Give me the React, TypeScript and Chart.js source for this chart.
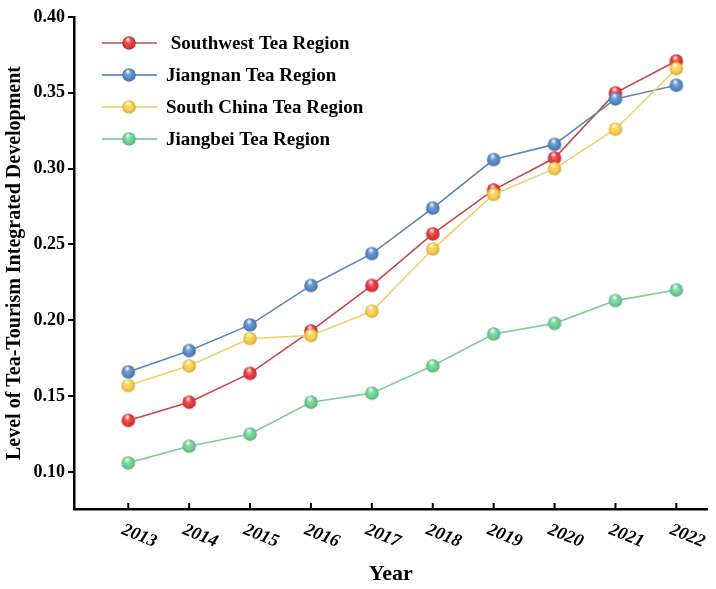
import React, { useEffect, useRef } from "react";
import { Chart, registerables } from "chart.js";

Chart.register(...registerables);

const years = [2013, 2014, 2015, 2016, 2017, 2018, 2019, 2020, 2021, 2022];
const southwest = [0.134, 0.146, 0.165, 0.193, 0.223, 0.257, 0.286, 0.307, 0.350, 0.371];
const jiangnan = [0.166, 0.180, 0.197, 0.223, 0.244, 0.274, 0.306, 0.316, 0.346, 0.355];
const southChina = [0.157, 0.170, 0.188, 0.190, 0.206, 0.247, 0.283, 0.300, 0.326, 0.366];
const jiangbei = [0.106, 0.117, 0.125, 0.146, 0.152, 0.170, 0.191, 0.198, 0.213, 0.220];
const yTicks = [0.1, 0.15, 0.2, 0.25, 0.3, 0.35, 0.4];
const seriesNames = [" Southwest Tea Region", "Jiangnan Tea Region", "South China Tea Region", "Jiangbei Tea Region"];
const seriesData = [southwest, jiangnan, southChina, jiangbei];
const markerColors = ["#ea3a3c", "#5b8cc9", "#fdd04c", "#70d598"];
const lineColors = ["#c9474b", "#5d88ba", "#f1d06c", "#7ccf9c"];
const legendLineColors = ["#c07f7d", "#6e97c6", "#f2d77e", "#86d3a6"];
const xTitle = "Year";
const yTitle = "Level of Tea-Tourism Integrated Development";

const FONT = '"Liberation Serif", "Times New Roman", serif';

function shade(hex: string, amt: number): string {
  const n = parseInt(hex.slice(1), 16);
  let r = (n >> 16) & 255, g = (n >> 8) & 255, b = n & 255;
  if (amt >= 0) {
    r = Math.round(r + (255 - r) * amt); g = Math.round(g + (255 - g) * amt); b = Math.round(b + (255 - b) * amt);
  } else {
    r = Math.round(r * (1 + amt)); g = Math.round(g * (1 + amt)); b = Math.round(b * (1 + amt));
  }
  return `rgb(${r},${g},${b})`;
}

function makeSphere(color: string, r: number): HTMLCanvasElement {
  const size = Math.ceil(r * 2 + 2);
  const c = document.createElement("canvas");
  c.width = size; c.height = size;
  const ctx = c.getContext("2d")!;
  const cx = size / 2, cy = size / 2;
  const g = ctx.createRadialGradient(cx - r * 0.2, cy - r * 0.35, 0, cx, cy, r * 1.05);
  g.addColorStop(0, shade(color, 0.35));
  g.addColorStop(0.55, color);
  g.addColorStop(1, shade(color, -0.18));
  ctx.beginPath();
  ctx.arc(cx, cy, r, 0, Math.PI * 2);
  ctx.fillStyle = g;
  ctx.fill();
  const h = ctx.createRadialGradient(cx - r * 0.15, cy - r * 0.5, 0, cx - r * 0.15, cy - r * 0.5, r * 0.45);
  h.addColorStop(0, "rgba(255,255,255,0.95)");
  h.addColorStop(1, "rgba(255,255,255,0)");
  ctx.beginPath();
  ctx.arc(cx - r * 0.15, cy - r * 0.5, r * 0.45, 0, Math.PI * 2);
  ctx.fillStyle = h;
  ctx.fill();
  return c;
}

export default function App() {
  const ref = useRef<HTMLCanvasElement>(null);
  useEffect(() => {
    if (!ref.current) return;
    const spheres = markerColors.map((c) => makeSphere(c, 6.8));

    const overlay = {
      id: "overlay",
      afterDraw(chart: any) {
        const ctx = chart.ctx;
        const xs = chart.scales.x;
        const area = chart.chartArea;
        ctx.save();
        ctx.strokeStyle = "#000";
        ctx.lineWidth = 2;
        years.forEach((yr) => {
          const x = xs.getPixelForValue(yr);
          ctx.beginPath();
          ctx.moveTo(x, area.bottom);
          ctx.lineTo(x, area.bottom - 6);
          ctx.stroke();
        });
        ctx.fillStyle = "#000";
        ctx.font = `italic bold 18px ${FONT}`;
        ctx.textAlign = "center";
        ctx.textBaseline = "middle";
        years.forEach((yr) => {
          const x = xs.getPixelForValue(yr);
          ctx.save();
          ctx.translate(x + 11, area.bottom + 27);
          ctx.rotate((22 * Math.PI) / 180);
          ctx.fillText(String(yr), 0, 0);
          ctx.restore();
        });
        ctx.font = `bold 22px ${FONT}`;
        ctx.fillText(xTitle, (area.left + area.right) / 2, area.bottom + 65);
        seriesNames.forEach((name, i) => {
          const y = 43 + 32 * i;
          ctx.strokeStyle = legendLineColors[i];
          ctx.lineWidth = 2;
          ctx.beginPath();
          ctx.moveTo(102, y);
          ctx.lineTo(157, y);
          ctx.stroke();
          const s = spheres[i];
          ctx.drawImage(s, 129 - s.width / 2, y - s.height / 2);
          ctx.fillStyle = "#000";
          ctx.font = `bold 19px ${FONT}`;
          ctx.textAlign = "left";
          ctx.textBaseline = "middle";
          ctx.fillText(name, 166, y + 1);
        });
        ctx.restore();
      },
    };

    const chart = new Chart(ref.current, {
      type: "line",
      data: {
        datasets: seriesData.map((d, i) => ({
          label: seriesNames[i],
          data: d.map((v, j) => ({ x: years[j], y: v })),
          borderColor: lineColors[i],
          borderWidth: 1.6,
          pointStyle: spheres[i] as any,
          pointRadius: 7,
          pointHoverRadius: 7,
          tension: 0,
          fill: false,
          order: 4 - i,
        })),
      },
      options: {
        animation: false,
        responsive: false,
        events: [],
        layout: { padding: { top: 17, right: 8, left: 0, bottom: 0 } },
        plugins: { legend: { display: false }, tooltip: { enabled: false } },
        scales: {
          x: {
            type: "linear",
            min: 2012.109,
            max: 2022.51,
            afterBuildTicks: (s: any) => {
              s.ticks = years.map((v) => ({ value: v }));
            },
            ticks: { display: false },
            grid: { display: false },
            border: { display: true, color: "#000", width: 2.5 },
            afterFit: (s: any) => {
              s.height = 80;
            },
          },
          y: {
            type: "linear",
            min: 0.0756,
            max: 0.4,
            afterBuildTicks: (s: any) => {
              s.ticks = yTicks.map((v) => ({ value: v }));
            },
            ticks: {
              color: "#000",
              padding: 3,
              font: { family: FONT, size: 18, weight: "bold" },
              callback: (v: any) => Number(v).toFixed(2),
            },
            grid: { drawOnChartArea: false, drawTicks: true, tickLength: 6, color: "#000", lineWidth: 2 },
            border: { display: true, color: "#000", width: 2.5 },
            title: {
              display: true,
              text: yTitle,
              color: "#000",
              font: { family: FONT, size: 20, weight: "bold" },
              padding: { top: 3, bottom: 4 },
            },
            afterFit: (s: any) => {
              s.width = 74;
            },
          },
        },
      },
      plugins: [overlay],
    });
    return () => chart.destroy();
  }, []);
  return (
    <div style={{ position: "absolute", left: 0, top: 0, width: 716, height: 589, background: "#fff" }}>
      <canvas ref={ref} width={716} height={589} style={{ width: 716, height: 589, display: "block" }} />
    </div>
  );
}
